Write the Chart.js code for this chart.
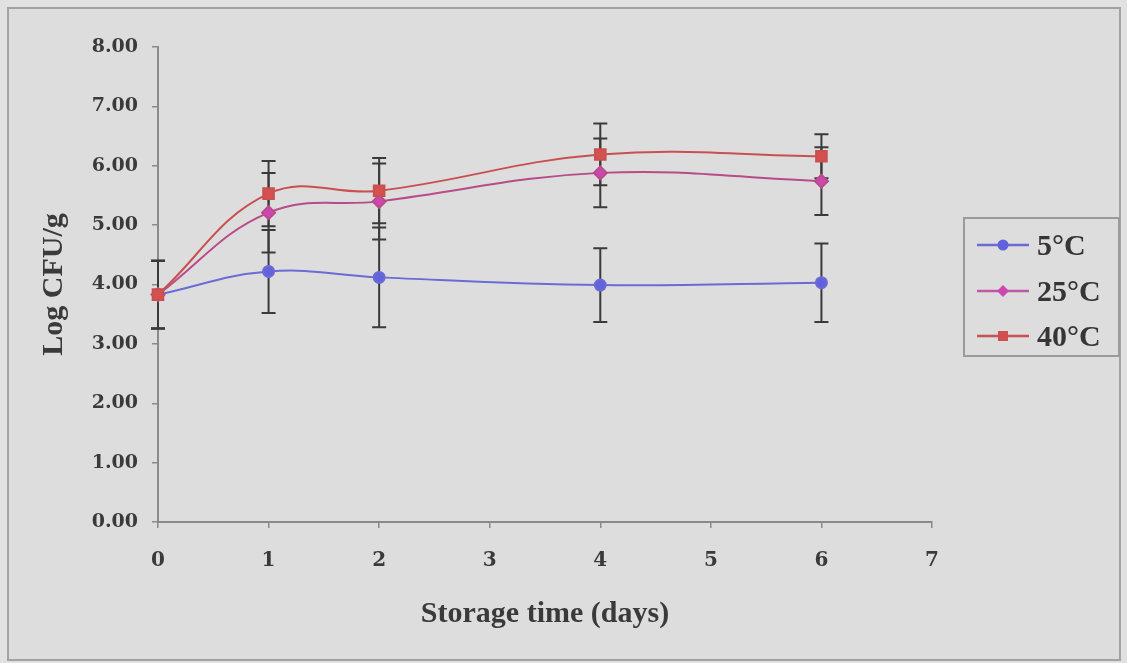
<!DOCTYPE html>
<html>
<head>
<meta charset="utf-8">
<script src="https://cdn.jsdelivr.net/npm/chart.js@4/dist/chart.umd.min.js"></script>
<style>
  html, body { margin: 0; padding: 0; background: #e1e1e1; }
  #wrap { position: relative; width: 1127px; height: 663px; overflow: hidden; background: #e1e1e1; }
  #frame { position: absolute; left: 7px; top: 7px; width: 1110px; height: 650px; border: 2px solid #a2a2a2; background: #dddddd; }
  #c { position: absolute; left: 0; top: 0; }
  #legend { position: absolute; left: 963px; top: 217px; width: 157px; height: 140px; border: 2px solid #9a9a9a; box-sizing: border-box; }
  .item { position: absolute; left: 12px; height: 40px; width: 140px; }
  .item svg { position: absolute; left: 0; top: 0; }
  .item span { position: absolute; left: 60px; top: 0; font: bold 30px "Liberation Serif", "Times New Roman", serif; color: #363636; line-height: 40px; white-space: nowrap; }
</style>
</head>
<body>
<div id="wrap">
  <div id="frame"></div>
  <canvas id="c" width="1127" height="663"></canvas>
  <div id="legend">
    <div class="item" style="top:6px">
      <svg width="56" height="40"><line x1="0" y1="20" x2="52" y2="20" stroke="#6b6bd6" stroke-width="2.5"/><circle cx="26" cy="20" r="5.5" fill="#6262dc"/></svg>
      <span>5°C</span>
    </div>
    <div class="item" style="top:52px">
      <svg width="56" height="40"><line x1="0" y1="20" x2="52" y2="20" stroke="#c058a8" stroke-width="2.5"/><polygon points="26,14 32,20 26,26 20,20" fill="#cc48b0"/></svg>
      <span>25°C</span>
    </div>
    <div class="item" style="top:97px">
      <svg width="56" height="40"><line x1="0" y1="20" x2="52" y2="20" stroke="#cc5050" stroke-width="2.5"/><rect x="21" y="15" width="10" height="10" fill="#d05050"/></svg>
      <span>40°C</span>
    </div>
  </div>
</div>
<script>
// ---- data ----
const days = [0, 1, 2, 4, 6];
const seriesNames = ['5°C', '25°C', '40°C'];
const t5 = [3.83, 4.22, 4.12, 3.99, 4.03];
const t5Err = [0.57, 0.70, 0.84, 0.62, 0.66];
const t25 = [3.83, 5.21, 5.40, 5.88, 5.74];
const t25Err = [0.57, 0.67, 0.64, 0.58, 0.57];
const t40 = [3.83, 5.53, 5.58, 6.19, 6.16];
const t40Err = [0.57, 0.55, 0.55, 0.52, 0.37];
const xTitle = 'Storage time (days)';
const yTitle = 'Log CFU/g';

const toPts = vals => vals.map((v, i) => ({ x: days[i], y: v }));
const errs = [t5Err, t25Err, t40Err];

const errorBars = {
  id: 'errorBars',
  beforeDatasetsDraw(chart) {
    const { ctx, scales: { x, y } } = chart;
    ctx.save();
    ctx.strokeStyle = '#3a3a3a';
    ctx.lineWidth = 2;
    chart.data.datasets.forEach((ds, di) => {
      const e = errs[di];
      ds.data.forEach((p, i) => {
        const px = x.getPixelForValue(p.x);
        const top = y.getPixelForValue(p.y + e[i]);
        const bot = y.getPixelForValue(p.y - e[i]);
        ctx.beginPath();
        ctx.moveTo(px, top); ctx.lineTo(px, bot);
        ctx.moveTo(px - 7, top); ctx.lineTo(px + 7, top);
        ctx.moveTo(px - 7, bot); ctx.lineTo(px + 7, bot);
        ctx.stroke();
      });
    });
    ctx.restore();
  }
};

const tickFontY = { family: '"DejaVu Serif", serif', weight: 'bold', size: 19 };
const tickFontX = { family: '"DejaVu Serif", serif', weight: 'bold', size: 20 };
const titleFont = { family: '"Liberation Serif", "Times New Roman", serif', weight: 'bold', size: 30 };

new Chart(document.getElementById('c'), {
  type: 'line',
  data: {
    datasets: [
      { label: seriesNames[0], data: toPts(t5), borderColor: '#6b6bd6', backgroundColor: '#6262dc',
        pointStyle: 'circle', pointRadius: 5.5, borderWidth: 2, tension: 0.4, order: 2, clip: false },
      { label: seriesNames[1], data: toPts(t25), borderColor: '#b84c88', backgroundColor: '#cc48b0',
        pointStyle: 'rectRot', pointRadius: 6.5, borderWidth: 2, tension: 0.4, order: 1, clip: false },
      { label: seriesNames[2], data: toPts(t40), borderColor: '#c85050', backgroundColor: '#d65050',
        pointStyle: 'rect', pointRadius: 7.5, borderWidth: 2, tension: 0.4, order: 0, clip: false }
    ]
  },
  options: {
    responsive: false,
    animation: false,
    layout: { padding: { left: 0, top: 47, right: 195, bottom: 0 } },
    plugins: { legend: { display: false }, tooltip: { enabled: false } },
    elements: { point: { borderWidth: 0, hoverRadius: 6 } },
    scales: {
      x: {
        type: 'linear', min: 0, max: 7,
        afterFit: s => { s.height = 141; },
        ticks: { stepSize: 1, font: tickFontX, color: '#3a3a3a', padding: 21 },
        grid: { drawOnChartArea: false, drawTicks: true, tickLength: 6, color: '#8a8a8a', lineWidth: 1.5 },
        border: { display: true, color: '#8a8a8a', width: 2 },
        title: { display: true, text: xTitle, font: titleFont, color: '#3a3a3a', padding: { top: 0, bottom: 31 } }
      },
      y: {
        type: 'linear', min: 0, max: 8,
        afterFit: s => { s.width = 158; },
        ticks: { stepSize: 1, font: tickFontY, color: '#3a3a3a', padding: 14, callback: v => Number(v).toFixed(2) },
        grid: { drawOnChartArea: false, drawTicks: true, tickLength: 6, color: '#8a8a8a', lineWidth: 1.5 },
        border: { display: true, color: '#8a8a8a', width: 2 },
        title: { display: true, text: yTitle, font: titleFont, color: '#3a3a3a', padding: { top: 36, bottom: 0 } }
      }
    }
  },
  plugins: [errorBars]
});
</script>
</body>
</html>
